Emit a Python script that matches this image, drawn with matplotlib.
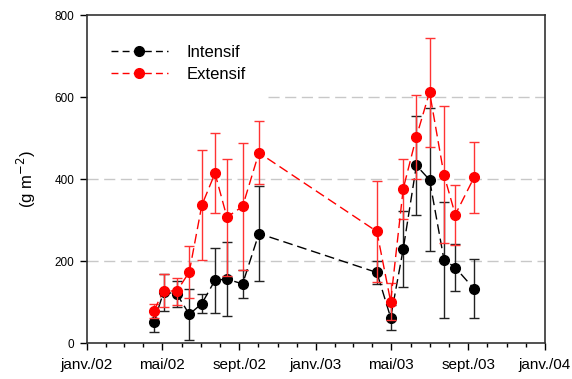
import matplotlib
matplotlib.use("Agg")
import matplotlib.pyplot as plt
import matplotlib.dates as mdates
from matplotlib.lines import Line2D
import numpy as np
import pandas as pd

plt.rcParams['font.family'] = ['Liberation Sans', 'DejaVu Sans']

dates = pd.to_datetime([
    "2002-04-18", "2002-05-03", "2002-05-24", "2002-06-13", "2002-07-03",
    "2002-07-24", "2002-08-12", "2002-09-06", "2002-10-02",
    "2003-04-08", "2003-04-30", "2003-05-20", "2003-06-10", "2003-07-01",
    "2003-07-24", "2003-08-11", "2003-09-10",
])
intensif = [52, 124, 120, 70, 96, 153, 156, 144, 267,
            172, 62, 229, 433, 398, 203, 184, 132]
intensif_err = [25, 45, 32, 62, 23, 79, 91, 34, 115,
                29, 31, 92, 120, 174, 142, 58, 72]
extensif = [79, 128, 126, 173, 336, 414, 307, 333, 464,
            272, 101, 376, 503, 612, 410, 313, 404]
extensif_err = [17, 40, 33, 64, 134, 97, 143, 156, 77,
                122, 45, 74, 102, 133, 167, 73, 87]

tick_dates = pd.to_datetime(["2002-01-01", "2002-05-01", "2002-09-01", "2003-01-01",
                             "2003-05-01", "2003-09-01", "2004-01-01"])
tick_labels = ["janv./02", "mai/02", "sept./02", "janv./03", "mai/03", "sept./03", "janv./04"]
y_ticks = [0, 200, 400, 600, 800]
grid_levels = [200, 400, 600]

fig = plt.figure(figsize=(5.72, 3.79), dpi=100)
ax = fig.add_axes([87/572, 36/379, 458/572, 328/379])

# gridlines
xmin_frac = {200: 0.0, 400: 0.0, 600: 0.395}
for g in grid_levels:
    ax.axhline(g, xmin=xmin_frac[g], xmax=1, color='#c8c8c8', lw=1.0,
               dashes=(8, 4), zorder=0)

ax.errorbar(dates, intensif, yerr=intensif_err, color='black', ecolor='#222222',
            elinewidth=1.0, capsize=3.5, capthick=1.0, marker='o', markersize=7,
            lw=1.0, dashes=(7, 3.5), zorder=3)
ax.errorbar(dates, extensif, yerr=extensif_err, color='red', ecolor='#ff3333',
            elinewidth=1.0, capsize=3.5, capthick=1.0, marker='o', markersize=7,
            lw=1.0, dashes=(7, 3.5), zorder=4)

ax.set_xlim(tick_dates[0], tick_dates[-1])
ax.set_ylim(0, 800)
ax.set_xticks(tick_dates)
ax.set_xticklabels(tick_labels, fontsize=11)
ax.xaxis.set_minor_locator(mdates.MonthLocator())
ax.set_yticks(y_ticks)
ax.set_yticklabels([str(v) for v in y_ticks], fontsize=8.5)
ax.tick_params(axis='x', which='major', direction='out', length=5, width=1, pad=6)
ax.tick_params(axis='x', which='minor', direction='out', length=3, width=1)
ax.tick_params(axis='y', which='major', direction='out', length=5, width=1, pad=4)
for s in ax.spines.values():
    s.set_color('#333333')
    s.set_linewidth(1.2)

ax.set_ylabel('(g m$^{-2}$)', fontsize=12, labelpad=12)

handles = [
    Line2D([], [], color='black', marker='o', markersize=7, lw=1.0, dashes=(5, 3)),
    Line2D([], [], color='red', marker='o', markersize=7, lw=1.0, dashes=(5, 3)),
]
leg = ax.legend(handles, ['Intensif', 'Extensif'], loc='upper left',
                bbox_to_anchor=(0.02, 0.955), frameon=False,
                fontsize=12, handlelength=3.4, handletextpad=1.1, labelspacing=0.45)

fig.savefig('out.png', dpi=100)
